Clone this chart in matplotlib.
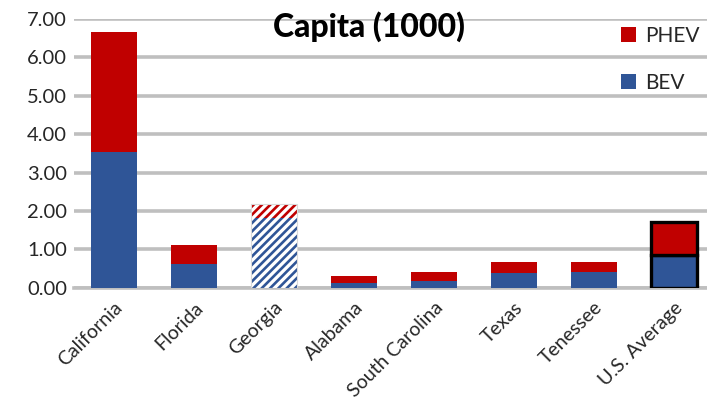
import matplotlib
matplotlib.use("Agg")
import matplotlib.pyplot as plt
from matplotlib.patches import Patch

plt.rcParams['font.family'] = ['Lato', 'DejaVu Sans']
plt.rcParams['hatch.linewidth'] = 1.9

states = ["California", "Florida", "Georgia", "Alabama", "South Carolina",
          "Texas", "Tenessee", "U.S. Average"]
bev = [3.53, 0.62, 1.81, 0.11, 0.18, 0.37, 0.42, 0.86]
phev = [3.14, 0.50, 0.38, 0.19, 0.23, 0.31, 0.26, 0.84]
yticks = [0, 1, 2, 3, 4, 5, 6, 7]

RED = "#C00000"
BLUE = "#2F5597"
GRID = "#BFBFBF"

fig = plt.figure(figsize=(7.07, 3.99), dpi=100)
W, H = 707, 399
ax = fig.add_axes([74 / W, 1 - 287.7 / H, (707 - 74) / W, (287.7 - 18.9) / H])

x = list(range(len(states)))
width = 0.57
for i in x:
    if states[i] == "Georgia":
        ax.bar(i, bev[i], width, color="white", edgecolor=BLUE, hatch="////",
               linewidth=0, zorder=3)
        ax.bar(i, phev[i], width, bottom=bev[i], color="white", edgecolor=RED,
               hatch="////", linewidth=0, zorder=3)
        ax.bar(i, bev[i] + phev[i], width, fill=False, edgecolor="#D9D9D9",
               linewidth=0.8, zorder=4)
    elif states[i] == "U.S. Average":
        ax.bar(i, bev[i], width, color=BLUE, edgecolor="black", linewidth=2.4, zorder=3)
        ax.bar(i, phev[i], width, bottom=bev[i], color=RED, edgecolor="black",
               linewidth=2.4, zorder=3)
    else:
        ax.bar(i, bev[i], width, color=BLUE, zorder=3)
        ax.bar(i, phev[i], width, bottom=bev[i], color=RED, zorder=3)

ax.set_xlim(-0.5, 7.5 - 7 / 80)
ax.set_ylim(0, 7)
ax.set_yticks(yticks)
ax.set_yticklabels([f"{v:.2f}" for v in yticks], fontsize=14.5, color="#262626")
ax.set_xticks(x)
ax.set_xticklabels(states, rotation=45, ha="right", rotation_mode="anchor",
                   fontsize=14, color="#262626")
ax.tick_params(axis="both", length=0)
ax.tick_params(axis="y", pad=5)
ax.tick_params(axis="x", pad=8)

for s in ax.spines.values():
    s.set_visible(False)
ax.yaxis.grid(True, color=GRID, linewidth=2.6, zorder=0)
ax.set_axisbelow(True)
ax.axhline(0, color=GRID, linewidth=2.6, zorder=2, clip_on=False)

fig.text(369 / W, 1 - 27 / H, "Capita (1000)", fontsize=23, fontweight="black",
         ha="center", va="center", color="black")

handles = [Patch(facecolor=RED, label="PHEV"), Patch(facecolor=BLUE, label="BEV")]
fig.legend(handles=handles, loc="upper left", bbox_to_anchor=(602 / W, 1 - 7 / H),
           frameon=False, fontsize=15, handlelength=0.72, handleheight=0.72,
           handletextpad=0.45, labelspacing=1.3, labelcolor="#262626")

fig.savefig("out.png", dpi=100, facecolor="white")
